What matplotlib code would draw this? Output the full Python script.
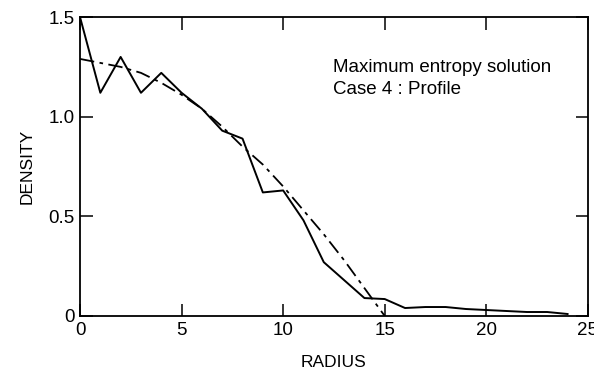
import matplotlib

matplotlib.use("Agg")
import matplotlib.pyplot as plt

# solid profile (integer radii)
radius = list(range(25))
density = [1.50, 1.12, 1.30, 1.12, 1.22, 1.12, 1.04, 0.93, 0.89, 0.62,
           0.63, 0.48, 0.27, 0.18, 0.09, 0.085, 0.04, 0.045, 0.045, 0.035,
           0.03, 0.025, 0.02, 0.02, 0.01]

# dash-dot maximum entropy fit
fit_r = list(range(16))
fit_d = [1.29, 1.27, 1.25, 1.22, 1.17, 1.11, 1.04, 0.95, 0.85, 0.76,
         0.65, 0.53, 0.41, 0.28, 0.14, 0.0]

xticks = [0, 5, 10, 15, 20, 25]
yticks = [0, 0.5, 1.0, 1.5]
ytick_labels = ["0", "0.5", "1.0", "1.5"]

plt.rcParams["font.family"] = ["Liberation Sans", "DejaVu Sans"]

fig = plt.figure(figsize=(5.94, 3.76), dpi=100)
ax = fig.add_axes([0.1347, 0.1596, 0.855, 0.795])

ax.plot(radius, density, color="black", lw=1.4)
ax.plot(fit_r, fit_d, color="black", lw=1.3, linestyle=(0, (8, 3, 2, 3)))

ax.set_xlim(0, 25)
ax.set_ylim(0, 1.5)
ax.set_xticks(xticks)
ax.set_yticks(yticks)
ax.set_yticklabels(ytick_labels)
ax.tick_params(direction="in", length=9, width=1.1, labelsize=13.5,
               top=True, right=True, pad=4)
for s in ax.spines.values():
    s.set_linewidth(1.3)

ax.set_xlabel("RADIUS", fontsize=12.5, labelpad=12)
ax.set_ylabel("DENSITY", fontsize=12.5, labelpad=10)

ax.text(0.498, 0.795, "Maximum entropy solution\nCase 4 : Profile",
        transform=ax.transAxes, fontsize=13.5, va="center", ha="left",
        linespacing=1.35)

fig.savefig("out.png", dpi=100)
